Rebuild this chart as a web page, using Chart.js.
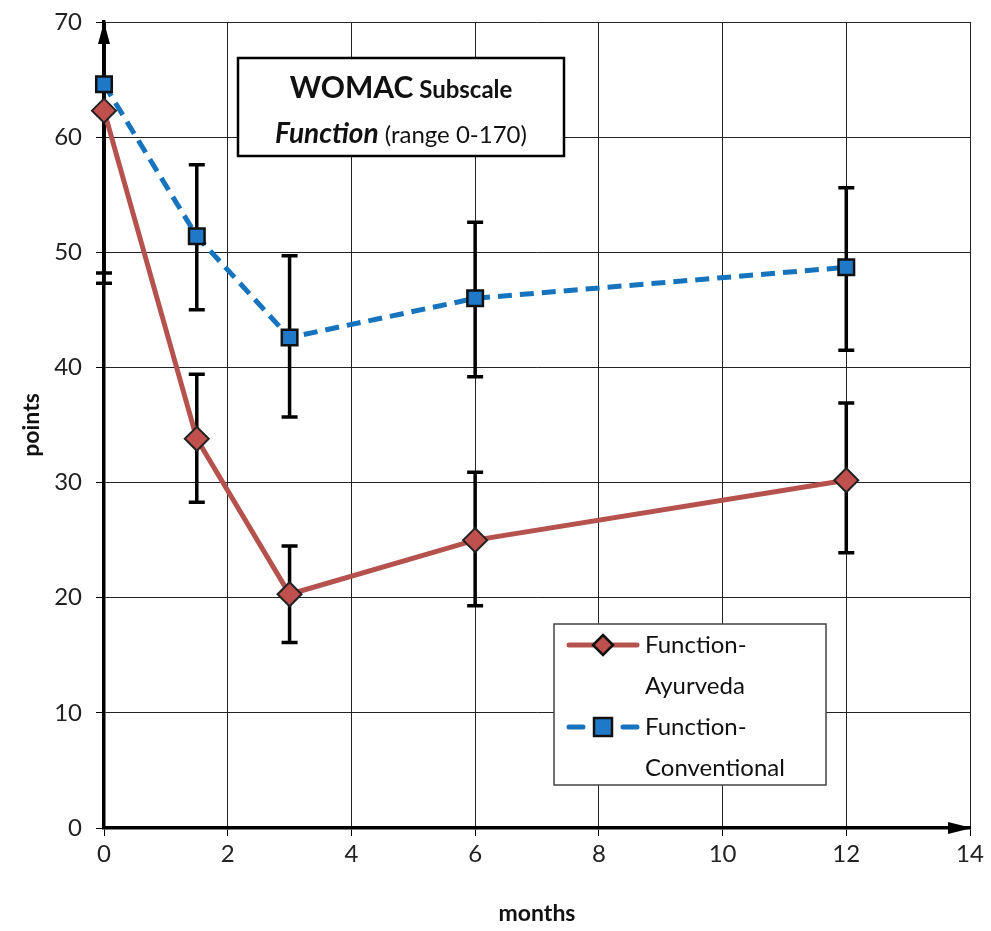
<!DOCTYPE html>
<html>
<head>
<meta charset="utf-8">
<script src="https://cdn.jsdelivr.net/npm/chart.js@4/dist/chart.umd.min.js"></script>
<style>
  html, body { margin: 0; padding: 0; background: #fff; }
  #wrap { width: 991px; height: 931px; }
</style>
</head>
<body>
<div id="wrap"><canvas id="womac"></canvas></div>
<script>
// data
var months = [0, 1.5, 3, 6, 12];
var ayurveda = [62.3, 33.8, 20.3, 25.0, 30.2];
var ayurvedaLow = [47.3, 28.3, 16.1, 19.3, 23.9];
var ayurvedaHigh = [77.3, 39.4, 24.5, 30.9, 36.9];
var conventional = [64.6, 51.4, 42.6, 46.0, 48.7];
var conventionalLow = [48.2, 45.0, 35.7, 39.2, 41.5];
var conventionalHigh = [81.0, 57.6, 49.7, 52.6, 55.6];
var xTicks = [0, 2, 4, 6, 8, 10, 12, 14];
var yTicks = [0, 10, 20, 30, 40, 50, 60, 70];

var FONT = "Lato, 'Open Sans', sans-serif";
var red = '#C0504D';

function pts(xs, ys) {
  return xs.map(function (x, i) { return { x: x, y: ys[i] }; });
}

// error bars, drawn under the markers
var errorBars = {
  id: 'errorBars',
  beforeDatasetsDraw: function (chart) {
    var ctx = chart.ctx, xs = chart.scales.x, ys = chart.scales.y, a = chart.chartArea;
    var sets = [[ayurvedaLow, ayurvedaHigh], [conventionalLow, conventionalHigh]];
    ctx.save();
    ctx.beginPath();
    ctx.rect(a.left - 10, a.top, a.right - a.left + 20, a.bottom - a.top);
    ctx.clip();
    ctx.strokeStyle = '#000';
    ctx.lineWidth = 3.5;
    sets.forEach(function (s) {
      months.forEach(function (m, i) {
        var px = xs.getPixelForValue(m);
        var lo = ys.getPixelForValue(s[0][i]);
        var hi = ys.getPixelForValue(s[1][i]);
        ctx.beginPath();
        ctx.moveTo(px, lo); ctx.lineTo(px, hi);
        ctx.moveTo(px - 8, lo); ctx.lineTo(px + 8, lo);
        ctx.moveTo(px - 8, hi); ctx.lineTo(px + 8, hi);
        ctx.stroke();
      });
    });
    ctx.restore();
  }
};

// arrows, title box and legend box
var decorations = {
  id: 'decorations',
  afterDatasetsDraw: function (chart) {
    var ctx = chart.ctx, a = chart.chartArea;
    ctx.save();
    ctx.fillStyle = '#000';
    // arrow on y axis
    ctx.beginPath();
    ctx.moveTo(a.left, a.top);
    ctx.lineTo(a.left - 6, a.top + 22);
    ctx.lineTo(a.left + 6, a.top + 22);
    ctx.closePath();
    ctx.fill();
    // arrow on x axis
    ctx.beginPath();
    ctx.moveTo(a.right + 2, a.bottom);
    ctx.lineTo(a.right - 22, a.bottom - 6);
    ctx.lineTo(a.right - 22, a.bottom + 6);
    ctx.closePath();
    ctx.fill();

    // title box
    ctx.fillStyle = '#fff';
    ctx.fillRect(238, 58, 326, 98);
    ctx.strokeStyle = '#000';
    ctx.lineWidth = 2.5;
    ctx.strokeRect(238, 58, 326, 98);
    ctx.fillStyle = '#111';
    ctx.textBaseline = 'alphabetic';
    ctx.textAlign = 'left';
    var f1a = 'bold 30px ' + FONT, f1b = 'bold 24px ' + FONT;
    ctx.font = f1a; var w1 = ctx.measureText('WOMAC').width;
    ctx.font = f1b; var w2 = ctx.measureText(' Subscale').width;
    var x0 = 401 - (w1 + w2) / 2;
    ctx.font = f1a; ctx.fillText('WOMAC', x0, 98);
    ctx.font = f1b; ctx.fillText(' Subscale', x0 + w1, 98);
    var f2a = 'italic bold 28px ' + FONT, f2b = '24px ' + FONT;
    ctx.font = f2a; var w3 = ctx.measureText('Function').width;
    ctx.font = f2b; var w4 = ctx.measureText(' (range 0-170)').width;
    x0 = 401 - (w3 + w4) / 2;
    ctx.font = f2a; ctx.fillText('Function', x0, 143);
    ctx.font = f2b; ctx.fillText(' (range 0-170)', x0 + w3, 143);

    // legend box
    ctx.fillStyle = '#fff';
    ctx.fillRect(554, 624, 272, 161);
    ctx.strokeStyle = '#444';
    ctx.lineWidth = 1.5;
    ctx.strokeRect(554, 624, 272, 161);
    ctx.font = '24px ' + FONT;
    ctx.fillStyle = '#111';
    ctx.textBaseline = 'middle';
    ctx.fillText('Function-', 645, 645);
    ctx.fillText('Ayurveda', 645, 686);
    ctx.fillText('Function-', 645, 727);
    ctx.fillText('Conventional', 645, 768);
    // legend samples
    ctx.lineCap = 'round';
    ctx.lineWidth = 5;
    ctx.strokeStyle = '#B5524D';
    ctx.beginPath(); ctx.moveTo(569, 645); ctx.lineTo(637, 645); ctx.stroke();
    ctx.strokeStyle = '#1673BE';
    ctx.beginPath(); ctx.moveTo(569, 727); ctx.lineTo(583, 727); ctx.moveTo(623, 727); ctx.lineTo(637, 727); ctx.stroke();
    ctx.lineCap = 'butt';
    ctx.lineWidth = 2.5;
    ctx.strokeStyle = '#111';
    ctx.fillStyle = red;
    ctx.beginPath();
    ctx.moveTo(603, 635); ctx.lineTo(613, 645); ctx.lineTo(603, 655); ctx.lineTo(593, 645);
    ctx.closePath(); ctx.fill(); ctx.stroke();
    ctx.fillStyle = '#1F78C8';
    ctx.fillRect(594, 718, 18, 18);
    ctx.strokeRect(594, 718, 18, 18);
    ctx.restore();
  }
};

new Chart(document.getElementById('womac'), {
  type: 'scatter',
  data: {
    datasets: [{
      label: 'Function-Ayurveda',
      data: pts(months, ayurveda),
      showLine: true,
      borderColor: '#B5524D',
      borderWidth: 5,
      pointStyle: 'rectRot',
      pointRadius: 12,
      pointHoverRadius: 12,
      pointBackgroundColor: red,
      pointBorderColor: '#222',
      pointBorderWidth: 2
    }, {
      label: 'Function-Conventional',
      data: pts(months, conventional),
      showLine: true,
      borderColor: '#1673BE',
      borderWidth: 5,
      borderDash: [14, 8],
      pointStyle: 'rect',
      pointRadius: 11,
      pointHoverRadius: 11,
      pointBackgroundColor: '#1F78C8',
      pointBorderColor: '#111',
      pointBorderWidth: 2.5
    }]
  },
  options: {
    responsive: true,
    maintainAspectRatio: false,
    animation: false,
    clip: false,
    layout: { padding: { top: 22, right: 21, left: 0, bottom: 0 } },
    plugins: {
      legend: { display: false },
      tooltip: { enabled: false }
    },
    scales: {
      x: {
        type: 'linear',
        min: 0,
        max: 14,
        afterBuildTicks: function (s) { s.ticks = xTicks.map(function (v) { return { value: v }; }); },
        afterFit: function (s) { s.height = 103; s.paddingLeft = 0; s.paddingRight = 0; },
        grid: { color: '#222', lineWidth: 1, tickLength: 8, tickColor: '#000', drawTicks: true },
        border: { color: '#000', width: 3.5 },
        ticks: { color: '#222', font: { family: FONT, size: 24 }, padding: 4 },
        title: { display: true, text: 'months', color: '#111', font: { family: FONT, size: 23, weight: 'bold' }, padding: { top: 10 } }
      },
      y: {
        min: 0,
        max: 70,
        afterBuildTicks: function (s) { s.ticks = yTicks.map(function (v) { return { value: v }; }); },
        afterFit: function (s) { s.width = 104; s.paddingTop = 0; s.paddingBottom = 0; },
        grid: { color: '#222', lineWidth: 1, tickLength: 8, tickColor: '#000', drawTicks: true },
        border: { color: '#000', width: 3.5 },
        ticks: { color: '#222', font: { family: FONT, size: 24 }, padding: 14 },
        title: { display: true, text: 'points', color: '#111', font: { family: FONT, size: 23, weight: 'bold' }, padding: { top: 18, bottom: 0 } }
      }
    }
  },
  plugins: [errorBars, decorations]
});
</script>
</body>
</html>
